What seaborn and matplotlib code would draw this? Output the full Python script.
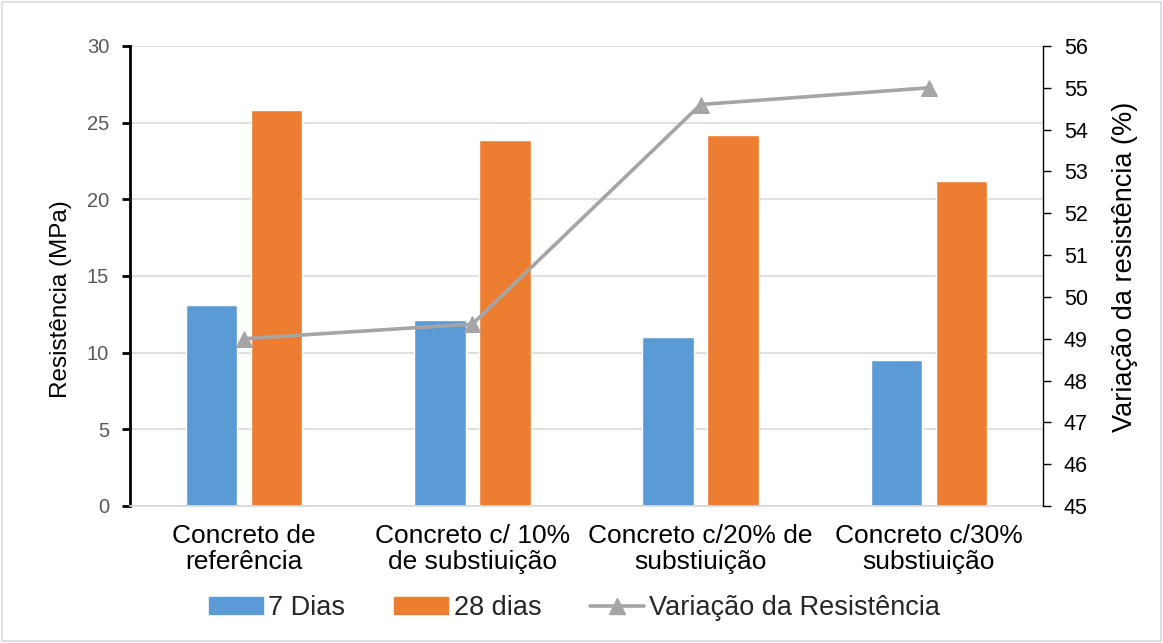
import numpy as np
import pandas as pd
import matplotlib
matplotlib.use("Agg")
import matplotlib.pyplot as plt
from matplotlib.lines import Line2D
from matplotlib.patches import Patch, Rectangle
import seaborn as sns

categorias = [
    "Concreto de\nreferência",
    "Concreto c/ 10%\nde substiuição",
    "Concreto c/20% de\nsubstiuição",
    "Concreto c/30%\nsubstiuição",
]
dias_7 = [13.1, 12.1, 11.0, 9.5]
dias_28 = [25.8, 23.9, 24.2, 21.2]
variacao = [49.0, 49.35, 54.6, 55.0]
series = ["7 Dias", "28 dias"]
serie_linha = "Variação da Resistência"

cor_7 = "#5b9bd5"
cor_28 = "#ed7d31"
cor_linha = "#a5a5a5"
cor_grade = "#d9d9d9"

sns.set_theme(style="white")
plt.rcParams["font.family"] = ["Liberation Sans", "DejaVu Sans"]

df = pd.DataFrame({
    "categoria": categorias * 2,
    "resistencia": dias_7 + dias_28,
    "serie": [series[0]] * len(categorias) + [series[1]] * len(categorias),
})

fig = plt.figure(figsize=(11.63, 6.43), dpi=100)
ax = fig.add_axes([0.1118, 0.2131, 0.785, 0.7154])

sns.barplot(data=df, x="categoria", y="resistencia", hue="serie",
            palette=[cor_7, cor_28], width=0.57, gap=0.21,
            saturation=1, errorbar=None, ax=ax, legend=False, zorder=2)

ax.set_ylim(0, 30)
ax.set_xlim(-0.5, len(categorias) - 0.5)
ax.set_yticks(np.arange(0, 31, 5))
ax.yaxis.grid(True, color=cor_grade, linewidth=1.2, zorder=0)
ax.set_axisbelow(True)
ax.set_xlabel("")
ax.set_ylabel("Resistência (MPa)", fontsize=17.5, color="black")
ax.yaxis.set_label_coords(-0.064, 0.45)
ax.tick_params(axis="y", direction="out", length=6, width=2, color="black",
               labelsize=14.5, labelcolor="#595959", pad=9, left=True)
ax.tick_params(axis="x", length=0, pad=13)
for lbl in ax.get_xticklabels():
    lbl.set_fontsize(19)
    lbl.set_color("black")
    lbl.set_linespacing(1.1)

for s in ["top", "right"]:
    ax.spines[s].set_visible(False)
ax.spines["left"].set_color("black")
ax.spines["left"].set_linewidth(2)
ax.spines["bottom"].set_color(cor_grade)
ax.spines["bottom"].set_linewidth(1.2)

ax2 = ax.twinx()
sns.lineplot(x=np.arange(len(categorias)), y=variacao, ax=ax2,
             color=cor_linha, linewidth=2.6, marker="^", markersize=12,
             markeredgecolor=cor_linha, markerfacecolor=cor_linha, zorder=3)
ax2.set_ylim(45, 56)
ax2.set_yticks(np.arange(45, 57, 1))
ax2.set_ylabel("Variação da resistência (%)", fontsize=19.5, color="black")
ax2.yaxis.set_label_coords(1.076, 0.52)
ax2.tick_params(axis="y", direction="out", length=6, width=1, color="black",
                labelsize=15.5, labelcolor="black", pad=9, right=True)
for s in ["top", "left", "bottom"]:
    ax2.spines[s].set_visible(False)
ax2.spines["right"].set_color("black")
ax2.spines["right"].set_linewidth(1)
ax2.grid(False)

handles = [
    Patch(facecolor=cor_7, edgecolor=cor_7),
    Patch(facecolor=cor_28, edgecolor=cor_28),
    Line2D([], [], color=cor_linha, linewidth=2.6, marker="^", markersize=12),
]
fig.legend(handles, [series[0], series[1], serie_linha], loc="center",
           bbox_to_anchor=(0.494, 0.054), ncol=3, frameon=False,
           prop={"size": 19.5}, handlelength=2.0,
           handleheight=0.6, handletextpad=0.2, columnspacing=1.8)

fig.patches.append(Rectangle((0.002, 0.003), 0.996, 0.994, transform=fig.transFigure,
                             fill=False, edgecolor=cor_grade, linewidth=1.2))

fig.savefig("out.png", dpi=100)
